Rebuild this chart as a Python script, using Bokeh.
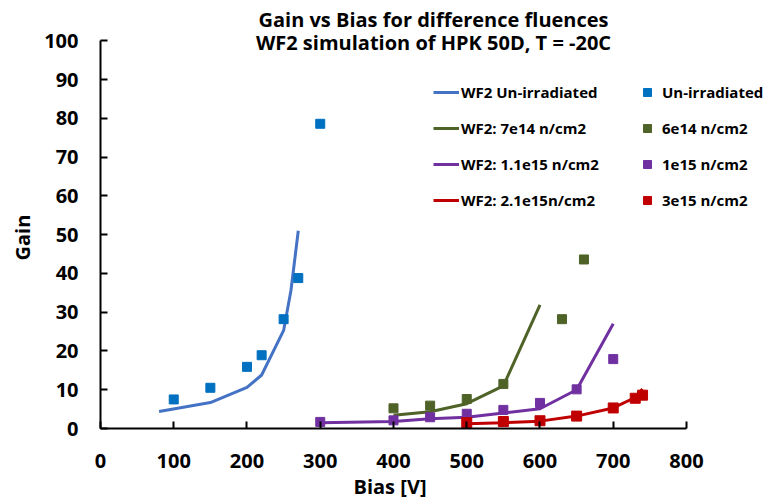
from bokeh.plotting import figure
from bokeh.models import Range1d, FixedTicker, Legend, LegendItem, Label, Title
from bokeh.embed import file_html
from bokeh.resources import INLINE

# ---- data ----
uni_line_x = [80, 150, 200, 220, 250, 260, 270]
uni_line_y = [4.4, 6.7, 10.6, 13.8, 25.3, 35.6, 51.0]
uni_pts_x = [100, 150, 200, 220, 250, 270, 300]
uni_pts_y = [7.5, 10.5, 15.9, 18.9, 28.2, 38.8, 78.6]

f7e14_line_x = [400, 450, 500, 550, 600]
f7e14_line_y = [3.4, 4.3, 6.4, 11.0, 31.9]
f6e14_pts_x = [400, 450, 500, 550, 630, 660]
f6e14_pts_y = [5.2, 5.9, 7.6, 11.5, 28.2, 43.6]

f11e15_line_x = [300, 400, 450, 500, 550, 600, 650, 700]
f11e15_line_y = [1.5, 1.8, 2.5, 2.9, 4.0, 5.1, 10.0, 27.0]
f1e15_pts_x = [300, 400, 450, 500, 550, 600, 650, 700]
f1e15_pts_y = [1.7, 2.1, 2.9, 3.8, 4.8, 6.6, 10.1, 17.9]

f21e15_line_x = [500, 550, 600, 650, 700, 730, 740]
f21e15_line_y = [1.2, 1.5, 1.9, 3.2, 5.3, 8.0, 10.2]
f3e15_pts_x = [500, 550, 600, 650, 700, 730, 740]
f3e15_pts_y = [1.5, 1.8, 2.0, 3.2, 5.3, 7.8, 8.6]

x_ticks = [0, 100, 200, 300, 400, 500, 600, 700, 800]
y_ticks = [0, 10, 20, 30, 40, 50, 60, 70, 80, 90, 100]

title_lines = ["Gain vs Bias for difference fluences", "WF2 simulation of HPK 50D, T = -20C"]
x_label = "Bias [V]"
y_label = "Gain"

FONT = "Open Sans"

# frame spans to the top/right canvas edges; axes are bounded to 0..800 / 0..100
p = figure(width=778, height=503, output_backend="svg", toolbar_location=None,
           x_range=Range1d(0, 925.6), y_range=Range1d(0, 110.4),
           min_border_left=100, min_border_right=0, min_border_top=0, min_border_bottom=75)
p.outline_line_color = None
p.xgrid.grid_line_color = None
p.ygrid.grid_line_color = None
p.background_fill_color = "white"
p.border_fill_color = "white"

for ax in (p.xaxis, p.yaxis):
    ax.axis_line_color = "black"
    ax.axis_line_width = 2
    ax.major_tick_line_color = "black"
    ax.major_tick_line_width = 2
    ax.major_tick_in = 7
    ax.major_tick_out = 0
    ax.minor_tick_line_color = None
    ax.major_label_text_font = FONT
    ax.major_label_text_font_style = "bold"
    ax.major_label_text_font_size = "20px"
    ax.major_label_text_color = "black"

p.xaxis.bounds = (0, 800)
p.yaxis.bounds = (0, 100)
p.xaxis.ticker = FixedTicker(ticks=x_ticks)
p.yaxis.ticker = FixedTicker(ticks=y_ticks)
p.xaxis.major_label_standoff = 25
p.yaxis.major_label_standoff = 22

# axis titles as side titles, positioned with offsets
p.add_layout(Title(text=x_label, align="left", offset=253, standoff=0,
                   vertical_align="bottom",
                   text_font=FONT, text_font_style="bold", text_font_size="20px",
                   text_color="black"), "below")
p.add_layout(Title(text=y_label, align="left", offset=168, standoff=8,
                   vertical_align="top",
                   text_font=FONT, text_font_style="bold", text_font_size="20px",
                   text_color="black"), "left")

blue_line = "#4472C4"
blue_pt = "#0070C0"
green = "#4F6228"
purple = "#7030A0"
red = "#C00000"

l1 = p.line(uni_line_x, uni_line_y, line_color=blue_line, line_width=3)
s1 = p.scatter(uni_pts_x, uni_pts_y, marker="square", size=9, color=blue_pt)
l2 = p.line(f7e14_line_x, f7e14_line_y, line_color=green, line_width=3)
s2 = p.scatter(f6e14_pts_x, f6e14_pts_y, marker="square", size=9, color=green)
l3 = p.line(f11e15_line_x, f11e15_line_y, line_color=purple, line_width=3)
s3 = p.scatter(f1e15_pts_x, f1e15_pts_y, marker="square", size=9, color=purple)
l4 = p.line(f21e15_line_x, f21e15_line_y, line_color=red, line_width=3)
s4 = p.scatter(f3e15_pts_x, f3e15_pts_y, marker="square", size=10, color=red)

def make_legend(items, loc, gw, standoff):
    lg = Legend(items=items, location=loc, orientation="vertical",
                glyph_width=gw, glyph_height=20, label_height=20,
                label_standoff=standoff, spacing=16, padding=0, margin=0,
                border_line_alpha=0, background_fill_alpha=0,
                label_text_font=FONT, label_text_font_style="bold",
                label_text_font_size="15px", label_text_color="black")
    return lg

leg1 = make_legend([
    LegendItem(label="WF2 Un-irradiated", renderers=[l1]),
    LegendItem(label="WF2: 7e14 n/cm2", renderers=[l2]),
    LegendItem(label="WF2: 1.1e15 n/cm2", renderers=[l3]),
    LegendItem(label="WF2: 2.1e15n/cm2", renderers=[l4]),
], (333, 218), 26, 2)
leg2 = make_legend([
    LegendItem(label="Un-irradiated", renderers=[s1]),
    LegendItem(label="6e14 n/cm2", renderers=[s2]),
    LegendItem(label="1e15 n/cm2", renderers=[s3]),
    LegendItem(label="3e15 n/cm2", renderers=[s4]),
], (537, 218), 20, 5)
p.add_layout(leg1)
p.add_layout(leg2)

# chart title lines (frame-relative screen units)
for txt, yy in zip(title_lines, [409, 386]):
    p.add_layout(Label(x=333, y=yy, x_units="screen", y_units="screen", text=txt,
                       text_align="center", text_baseline="middle",
                       text_font=FONT, text_font_style="bold",
                       text_font_size="20px", text_color="black"))

open("out.html", "w").write(file_html(p, INLINE))
